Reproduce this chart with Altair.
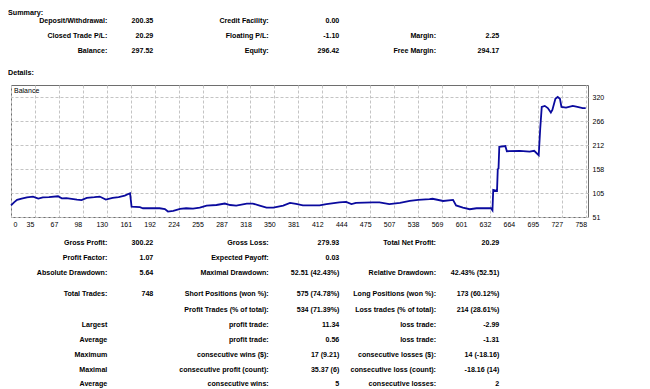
import altair as alt
import pandas as pd

# ---------------- data ----------------
trade_idx = [0, 4, 8, 14, 21, 29, 36, 42, 50, 62, 67, 73, 80, 87, 93, 100, 110, 117, 125, 134,
             142, 150, 157, 159, 170, 174, 185, 196, 203, 207, 214, 223, 231, 240, 249, 258, 271,
             282, 289, 297, 311, 319, 328, 337, 346, 359, 368, 376, 385, 407, 416, 433, 442, 449,
             455, 477, 486, 499, 513, 526, 537, 552, 556, 570, 583, 587, 596, 605, 614, 633, 635,
             636, 641, 642, 643, 644, 652, 654, 671, 684, 690, 696, 698, 700, 704, 708, 712, 714,
             718, 721, 724, 726, 732, 741, 747, 754, 758]
balance = [77, 84, 89.5, 92.5, 95.4, 97, 92.5, 95, 95.5, 97.7, 93, 93.5, 92, 90, 89, 94, 95.5, 97,
           90, 94, 95.5, 99, 104.4, 74.5, 73, 70.7, 71, 70.7, 69, 63.3, 65, 69.4, 70.7, 70, 72,
           76.8, 78, 81.3, 78, 76.8, 81.3, 81.3, 76.8, 72.3, 72.3, 76.8, 82.8, 80.7, 77, 77, 80,
           84, 85, 80, 82.8, 84, 84, 80, 82.8, 87.3, 89.5, 91, 92, 87, 89.5, 77, 72, 68.5, 70.7,
           70.7, 66, 112, 110, 159, 160, 209, 210.6, 199, 200, 198, 200, 190, 250, 298.7, 301,
           296, 286, 292, 317, 321, 317, 298.7, 297, 301, 299, 296, 296]

x_labels = ["0", "35", "67", "98", "130", "161", "192", "224", "255", "287", "318", "350", "381",
            "412", "444", "475", "507", "538", "569", "601", "632", "664", "695", "727", "758"]
y_ticks = [51, 105, 158, 212, 266, 320]

headers = ["Summary:", "Details:"]
summary_rows = [
    ["Deposit/Withdrawal:", "200.35", "Credit Facility:", "0.00", "", ""],
    ["Closed Trade P/L:", "20.29", "Floating P/L:", "-1.10", "Margin:", "2.25"],
    ["Balance:", "297.52", "Equity:", "296.42", "Free Margin:", "294.17"],
]
detail_rows = [
    ["Gross Profit:", "300.22", "Gross Loss:", "279.93", "Total Net Profit:", "20.29"],
    ["Profit Factor:", "1.07", "Expected Payoff:", "0.03", "", ""],
    ["Absolute Drawdown:", "5.64", "Maximal Drawdown:", "52.51 (42.43%)", "Relative Drawdown:", "42.43% (52.51)"],
    ["Total Trades:", "748", "Short Positions (won %):", "575 (74.78%)", "Long Positions (won %):", "173 (60.12%)"],
    ["", "", "Profit Trades (% of total):", "534 (71.39%)", "Loss trades (% of total):", "214 (28.61%)"],
    ["Largest", "", "profit trade:", "11.34", "loss trade:", "-2.99"],
    ["Average", "", "profit trade:", "0.56", "loss trade:", "-1.31"],
    ["Maximum", "", "consecutive wins ($):", "17 (9.21)", "consecutive losses ($):", "14 (-18.16)"],
    ["Maximal", "", "consecutive profit (count):", "35.37 (6)", "consecutive loss (count):", "-18.16 (14)"],
    ["Average", "", "consecutive wins:", "5", "consecutive losses:", "2"],
]

# ---------------- layout (pixels, relative to the plot frame) ----------------
W, H = 577, 132
col_pos = [-3, 96.3, 142.3, 257.7, 328.3, 425, 488.3]
row_pos = [-72.5, -64.5, -49, -34, -12.5,
           157.7, 172.5, 187.7, 208.7, 224.7, 239.5, 254.7, 270, 285, 299.2]
FONT = "Liberation Sans"

# ---------------- build tables ----------------
bal_df = pd.DataFrame({"trade": trade_idx, "balance": balance})

cells = []
cells.append({"row": 0, "col": 0, "text": headers[0]})
for r, row in enumerate(summary_rows):
    for c, t in enumerate(row):
        if t:
            cells.append({"row": 1 + r, "col": 1 + c, "text": t})
cells.append({"row": 4, "col": 0, "text": headers[1]})
for r, row in enumerate(detail_rows):
    for c, t in enumerate(row):
        if t:
            cells.append({"row": 5 + r, "col": 1 + c, "text": t})
txt_df = pd.DataFrame(cells)

# ---------------- balance chart ----------------
step = 758 / 24
grid_vals = [i * step for i in range(25)]
label_expr = "[" + ",".join("'%s'" % s for s in x_labels) + "][round(datum.value / %.6f)]" % step

xenc = alt.X(
    "trade:Q",
    scale=alt.Scale(domain=[0, 761], nice=False, zero=False),
    axis=alt.Axis(
        values=grid_vals, labelExpr=label_expr, title=None, orient="bottom",
        grid=True, gridColor="#c4c4c4", gridDash=[3, 2], gridWidth=1,
        ticks=False, domain=False, labelPadding=3, labelFont=FONT, labelFontSize=7,
        labelColor="#000000",
        labelOffset={"condition": {"test": "datum.value == 0", "value": 2}, "value": -5},
    ),
)
yenc = alt.Y(
    "balance:Q",
    scale=alt.Scale(domain=[51, 348], nice=False, zero=False),
    axis=alt.Axis(
        values=y_ticks, title=None, orient="right",
        grid=True, gridColor="#c4c4c4", gridDash=[3, 2], gridWidth=1,
        ticks=False, domain=False, labelPadding=4, labelFont=FONT, labelFontSize=7,
        labelColor="#000000",
    ),
)

line = alt.Chart(bal_df).mark_line(color="#0a0a9e", strokeWidth=1.8, interpolate="linear").encode(
    x=xenc, y=yenc
)
bal_label = alt.Chart(pd.DataFrame({"t": ["Balance"]})).mark_text(
    align="left", baseline="middle", font=FONT, fontSize=7, color="#000000"
).encode(x=alt.value(3), y=alt.value(6), text="t:N")

chart_part = alt.layer(line, bal_label)

# ---------------- text tables ----------------
tx = alt.X("col:Q", scale=alt.Scale(domain=list(range(7)), range=col_pos, nice=False, zero=False), axis=None)
ty = alt.Y("row:Q", scale=alt.Scale(domain=list(range(15)), range=row_pos, nice=False, zero=False), axis=None)

head_txt = alt.Chart(txt_df).transform_filter("datum.col == 0").mark_text(
    align="left", baseline="middle", font=FONT, fontSize=7.2, fontWeight="bold", color="#000000"
).encode(x=tx, y=ty, text="text:N")
cell_txt = alt.Chart(txt_df).transform_filter("datum.col > 0").mark_text(
    align="right", baseline="middle", font=FONT, fontSize=7.1, fontWeight="bold", color="#000000"
).encode(x=tx, y=ty, text="text:N")

text_part = alt.layer(head_txt, cell_txt)

chart = alt.layer(chart_part, text_part).resolve_scale(
    x="independent", y="independent"
).properties(
    width=W, height=H,
    autosize=alt.AutoSizeParams(type="none"),
    padding={"left": 3, "top": 77, "right": 50, "bottom": 172},
    background="#ffffff",
).configure_view(stroke="#6e6e6e", strokeWidth=1)

chart.save("out.html", embed_options={"renderer": "svg", "actions": False})
